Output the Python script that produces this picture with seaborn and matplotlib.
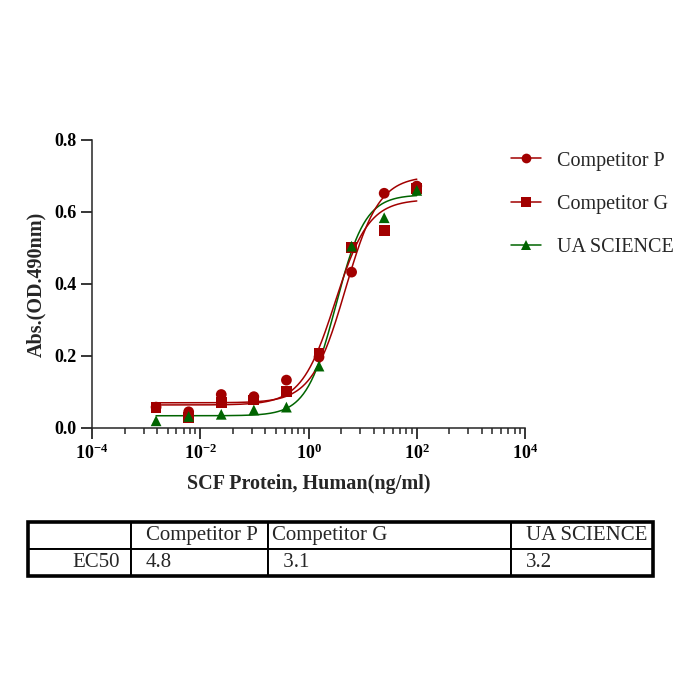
# ============================================
# SCF PROTEIN ELISA - DOSE RESPONSE + EC50 TABLE
# ============================================

import numpy as np
import pandas as pd
import seaborn as sns
import matplotlib.pyplot as plt
import matplotlib.ticker as mtick
from matplotlib.lines import Line2D
from matplotlib.patches import Rectangle

# ============================================
# DATA
# ============================================

samples = ["Competitor P", "Competitor G", "UA SCIENCE"]

# 4-fold serial dilution, ng/ml
conc = [100, 25, 6.25, 1.5625, 0.390625, 0.09765625,
        0.0244140625, 0.006103515625, 0.00152587890625]

abs_p = [0.672, 0.652, 0.433, 0.197, 0.133, 0.087, 0.093, 0.045, 0.058]
abs_g = [0.665, 0.548, 0.502, 0.208, 0.102, 0.078, 0.070, 0.030, 0.057]
abs_ua = [0.660, 0.584, 0.505, 0.172, 0.058, 0.050, 0.038, 0.032, 0.020]

# 4PL fit parameters (bottom, top, EC50, hill)
fit_bottom = [0.070, 0.064, 0.034]
fit_top = [0.700, 0.635, 0.648]
fit_ec50 = [4.8, 3.1, 3.2]
fit_hill = [1.4, 1.4, 1.6]

# EC50 table text
ec50_text = ["4.8", "3.1", "3.2"]

# ============================================
# VISUAL THEME
# ============================================

RED = "#A20000"
GREEN = "#006400"
palette = {"Competitor P": RED, "Competitor G": RED, "UA SCIENCE": GREEN}
markers = {"Competitor P": "o", "Competitor G": "s", "UA SCIENCE": "^"}

sns.set_theme(style="ticks")
plt.rcParams["font.family"] = ["Liberation Serif", "DejaVu Serif"]
plt.rcParams["mathtext.fontset"] = "custom"
plt.rcParams["mathtext.rm"] = "Liberation Serif"
plt.rcParams["mathtext.bf"] = "Liberation Serif:bold"
plt.rcParams["axes.linewidth"] = 1.1

# ============================================
# LONG TABLES FOR SEABORN
# ============================================

points = pd.DataFrame({
    "conc": conc * 3,
    "abs": abs_p + abs_g + abs_ua,
    "sample": [s for s in samples for _ in conc],
})

x_fit = np.logspace(np.log10(min(conc)), np.log10(max(conc)), 300)
fit_rows = []
for s, b, t, e, h in zip(samples, fit_bottom, fit_top, fit_ec50, fit_hill):
    y_fit = b + (t - b) / (1 + (e / x_fit) ** h)
    fit_rows.append(pd.DataFrame({"conc": x_fit, "abs": y_fit, "sample": s}))
curves = pd.concat(fit_rows, ignore_index=True)

# ============================================
# FIGURE
# ============================================

fig = plt.figure(figsize=(6.93, 6.93), dpi=100)
ax = fig.add_axes([0.1328, 0.3824, 0.6248, 0.4156])

sns.lineplot(
    data=curves, x="conc", y="abs", hue="sample",
    hue_order=samples[::-1], palette=palette,
    linewidth=1.1, legend=False, ax=ax, estimator=None, sort=False
)

sns.scatterplot(
    data=points, x="conc", y="abs", hue="sample", style="sample",
    hue_order=samples[::-1], style_order=samples[::-1],
    palette=palette, markers=markers, s=60, edgecolor="none",
    legend=False, ax=ax, zorder=3
)

ax.set_xscale("log")
ax.set_xlim(1e-4, 1e4)
ax.set_ylim(0, 0.8)

ax.xaxis.set_major_locator(mtick.FixedLocator([1e-4, 1e-2, 1e0, 1e2, 1e4]))
ax.xaxis.set_minor_locator(mtick.FixedLocator(
    [k ** 2 * 10.0 ** e for e in (-4, -2, 0, 2) for k in range(2, 10)]
))
ax.xaxis.set_major_formatter(
    mtick.FuncFormatter(lambda v, p: r"$\mathbf{10^{%d}}$" % round(np.log10(v)))
)
ax.xaxis.set_minor_formatter(mtick.NullFormatter())

ax.yaxis.set_major_locator(mtick.MultipleLocator(0.2))
ax.yaxis.set_major_formatter(mtick.FormatStrFormatter("%.1f"))

ax.tick_params(which="major", length=8, width=1.1, labelsize=13, pad=3,
               colors="black")
ax.tick_params(which="minor", length=4, width=1.1)
for lab in ax.get_yticklabels():
    lab.set_fontweight("bold")

sns.despine(ax=ax)

ax.set_xlabel("SCF Protein, Human(ng/ml)", fontsize=14.5,
              fontweight="bold", labelpad=8)
ax.set_ylabel("Abs.(OD.490nm)", fontsize=14.5,
              fontweight="bold", labelpad=6)

# ============================================
# LEGEND
# ============================================

handles = [
    Line2D([], [], color=palette[s], marker=markers[s], markersize=7,
           linewidth=1.1, markeredgewidth=0)
    for s in samples
]
fig.legend(
    handles, samples, loc="upper left", bbox_to_anchor=(0.723, 0.796),
    frameon=False, fontsize=14.5, borderpad=0, handlelength=1.5,
    handletextpad=0.8, labelspacing=1.2
)

# ============================================
# EC50 TABLE
# ============================================

tax = fig.add_axes([0.0404, 0.1688, 0.9019, 0.0779])
tax.axis("off")

col_px = [103, 137, 243, 142]
cell_text = [
    ["", "Competitor P", "Competitor G", "UA SCIENCE"],
    ["EC50", ec50_text[0], " " + ec50_text[1], ec50_text[2]],
]
table = tax.table(
    cellText=cell_text, colWidths=[c / sum(col_px) for c in col_px],
    bbox=[0, 0, 1, 1], cellLoc="left"
)
table.auto_set_font_size(False)
table.set_fontsize(15)

pads = [[0, 15, 4, 15], [11, 15, 10, 15]]
for (r, c), cell in table.get_celld().items():
    cell.set_linewidth(1.4)
    cell.set_edgecolor("black")
    cell.PAD = pads[r][c] / col_px[c]
    if r == 1 and c == 0:
        cell.set_text_props(ha="right")

tax.add_patch(Rectangle((0, 0), 1, 1, transform=tax.transAxes,
                        fill=False, lw=2.6, edgecolor="black",
                        clip_on=False))

fig.savefig("out.png", dpi=100)
